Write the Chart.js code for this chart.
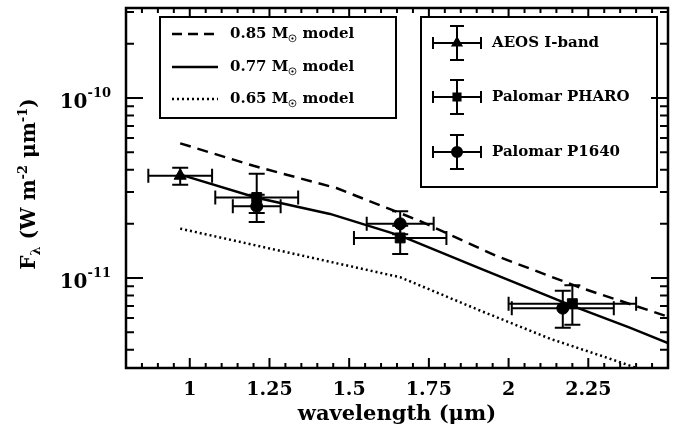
<!DOCTYPE html>
<html lang="en">
<head>
<meta charset="UTF-8">
<title>Companion SED with model curves</title>
<style>
  body { margin: 0; background: #fff; }
  #wrap { width: 676px; height: 436px; }
</style>
</head>
<body>
<div id="wrap"><canvas id="sed" width="676" height="436"></canvas></div>
<script src="https://cdn.jsdelivr.net/npm/chart.js"></script>
<script>
// model curves: wavelength (um) and flux (W m^-2 um^-1)
const wave085 = [0.97, 1.20, 1.46, 1.72, 1.96, 2.22, 2.50];
const flux085 = [5.6e-11, 4.2e-11, 3.16e-11, 2.08e-11, 1.33e-11, 8.9e-12, 6.1e-12];
const wave077 = [0.976, 1.21, 1.44, 1.66, 1.91, 2.20, 2.38, 2.50];
const flux077 = [3.73e-11, 2.79e-11, 2.27e-11, 1.72e-11, 1.13e-11, 7.0e-12, 5.3e-12, 4.35e-12];
const wave065 = [0.97, 1.25, 1.66, 1.91, 2.13, 2.31, 2.50];
const flux065 = [1.88e-11, 1.46e-11, 1.01e-11, 6.6e-12, 4.6e-12, 3.6e-12, 2.75e-12];

// photometry
const aeosWave = [0.97];
const aeosWaveErr = [0.10];
const aeosFlux = [3.7e-11];
const aeosFluxLo = [3.3e-11];
const aeosFluxHi = [4.1e-11];

const pharoWave = [1.21, 1.66, 2.20];
const pharoWaveErr = [0.13, 0.145, 0.20];
const pharoFlux = [2.8e-11, 1.67e-11, 7.2e-12];
const pharoFluxLo = [2.3e-11, 1.36e-11, 5.5e-12];
const pharoFluxHi = [3.8e-11, 1.95e-11, 9.1e-12];

const p1640Wave = [1.21, 1.66, 2.17];
const p1640WaveErr = [0.075, 0.105, 0.16];
const p1640Flux = [2.5e-11, 2.0e-11, 6.8e-12];
const p1640FluxLo = [2.05e-11, 1.75e-11, 5.3e-12];
const p1640FluxHi = [2.9e-11, 2.35e-11, 8.5e-12];

const xTicks = [1, 1.25, 1.5, 1.75, 2, 2.25];
const xTickLabels = ['1', '1.25', '1.5', '1.75', '2', '2.25'];
const yTicks = [1e-10, 1e-11];
const yTickExp = ['-10', '-11'];

const modelLabels = ['0.85', '0.77', '0.65'];
const obsLabels = ['AEOS I-band', 'Palomar PHARO', 'Palomar P1640'];

const FONT = '"DejaVu Serif", serif';

function pts(xs, ys) {
    return xs.map((x, i) => ({ x: x, y: ys[i] }));
}

function obsPts(w, we, f, lo, hi) {
    return w.map((x, i) => ({ x: x, y: f[i], xe: we[i], lo: lo[i], hi: hi[i] }));
}

function modelSet(xs, ys, dash) {
    return {
        data: pts(xs, ys),
        showLine: true,
        borderColor: '#000',
        borderWidth: 2.5,
        borderDash: dash,
        pointRadius: 0,
        fill: false
    };
}

function obsSet(data, style, r) {
    return {
        data: data,
        showLine: false,
        pointStyle: style,
        pointRadius: r,
        backgroundColor: '#000',
        borderColor: '#000',
        borderWidth: 1,
        errorBars: true
    };
}

// error bars, frame, ticks, labels and the two legend boxes
const decor = {
    id: 'decor',
    afterDatasetsDraw(chart) {
        const ctx = chart.ctx;
        const xs = chart.scales.x, ys = chart.scales.y;
        const a = chart.chartArea;
        ctx.save();
        ctx.strokeStyle = '#000';
        ctx.fillStyle = '#000';

        // error bars
        ctx.lineWidth = 2;
        chart.data.datasets.forEach(ds => {
            if (!ds.errorBars) return;
            ds.data.forEach(p => {
                const px = xs.getPixelForValue(p.x), py = ys.getPixelForValue(p.y);
                const x0 = xs.getPixelForValue(p.x - p.xe), x1 = xs.getPixelForValue(p.x + p.xe);
                const y0 = ys.getPixelForValue(p.hi), y1 = ys.getPixelForValue(p.lo);
                ctx.beginPath();
                ctx.moveTo(x0, py); ctx.lineTo(x1, py);
                ctx.moveTo(x0, py - 7); ctx.lineTo(x0, py + 7);
                ctx.moveTo(x1, py - 7); ctx.lineTo(x1, py + 7);
                ctx.moveTo(px, y0); ctx.lineTo(px, y1);
                ctx.moveTo(px - 8, y0); ctx.lineTo(px + 8, y0);
                ctx.moveTo(px - 8, y1); ctx.lineTo(px + 8, y1);
                ctx.stroke();
            });
        });

        // frame
        ctx.lineWidth = 2.5;
        ctx.strokeRect(a.left, a.top, a.right - a.left, a.bottom - a.top);

        // x ticks (inward, mirrored on top)
        ctx.lineWidth = 2;
        ctx.beginPath();
        for (let k = 16; k <= 50; k++) {
            const v = k * 0.05;
            const px = xs.getPixelForValue(v);
            const len = (k % 5 === 0) ? 10 : 5;
            ctx.moveTo(px, a.bottom); ctx.lineTo(px, a.bottom - len);
            ctx.moveTo(px, a.top); ctx.lineTo(px, a.top + len);
        }
        // y ticks
        for (let e = -12; e <= -10; e++) {
            for (let m = 1; m <= 9; m++) {
                const v = m * Math.pow(10, e);
                if (v < ys.min * 0.999 || v > ys.max * 1.001) continue;
                const py = ys.getPixelForValue(v);
                const len = (m === 1) ? 17 : 8;
                ctx.moveTo(a.left, py); ctx.lineTo(a.left + len, py);
                ctx.moveTo(a.right, py); ctx.lineTo(a.right - len, py);
            }
        }
        ctx.stroke();

        // x tick labels
        ctx.font = 'bold 19px ' + FONT;
        ctx.textAlign = 'center';
        ctx.textBaseline = 'middle';
        xTicks.forEach((v, i) => {
            ctx.fillText(xTickLabels[i], xs.getPixelForValue(v), 390);
        });

        // y tick labels 10^n
        yTicks.forEach((v, i) => {
            const py = ys.getPixelForValue(v);
            ctx.font = 'bold 13px ' + FONT;
            const wSup = ctx.measureText(yTickExp[i]).width;
            ctx.font = 'bold 20px ' + FONT;
            const wBase = ctx.measureText('10').width;
            const right = 111;
            ctx.textAlign = 'left';
            ctx.textBaseline = 'alphabetic';
            ctx.fillText('10', right - wSup - wBase, py + 10);
            ctx.font = 'bold 13px ' + FONT;
            ctx.fillText(yTickExp[i], right - wSup, py - 1);
        });

        // x title
        ctx.font = 'bold 21px ' + FONT;
        ctx.textAlign = 'center';
        ctx.textBaseline = 'middle';
        ctx.fillText('wavelength (\u03bcm)', (a.left + a.right) / 2, 415);

        // y title, rotated, with sub/superscripts
        const parts = [
            ['F', 20, 0], ['\u03bb', 13, 5], [' (W m', 20, 0], ['-2', 13, -8],
            [' \u03bcm', 20, 0], ['-1', 13, -8], [')', 20, 0]
        ];
        let total = 0;
        parts.forEach(p => { ctx.font = 'bold ' + p[1] + 'px ' + FONT; total += ctx.measureText(p[0]).width; });
        ctx.save();
        ctx.translate(35, 184);
        ctx.rotate(-Math.PI / 2);
        ctx.textAlign = 'left';
        ctx.textBaseline = 'alphabetic';
        let cx = -total / 2;
        parts.forEach(p => {
            ctx.font = 'bold ' + p[1] + 'px ' + FONT;
            ctx.fillText(p[0], cx, p[2]);
            cx += ctx.measureText(p[0]).width;
        });
        ctx.restore();

        // left legend box (models)
        ctx.lineWidth = 2;
        ctx.strokeRect(160, 17, 236, 101);
        const dashes = [[10, 6], [], [2, 3]];
        const rowsL = [34, 67, 99];
        modelLabels.forEach((lab, i) => {
            ctx.setLineDash(dashes[i]);
            ctx.lineWidth = 2.5;
            ctx.beginPath();
            ctx.moveTo(172, rowsL[i]); ctx.lineTo(218, rowsL[i]);
            ctx.stroke();
            ctx.setLineDash([]);
            ctx.textAlign = 'left';
            ctx.textBaseline = 'middle';
            ctx.font = 'bold 15px ' + FONT;
            let tx = 230;
            ctx.fillText(lab + ' M', tx, rowsL[i]);
            tx += ctx.measureText(lab + ' M').width;
            ctx.font = 'bold 10px ' + FONT;
            ctx.fillText('\u2609', tx, rowsL[i] + 5);
            tx += ctx.measureText('\u2609').width;
            ctx.font = 'bold 15px ' + FONT;
            ctx.fillText(' model', tx, rowsL[i]);
        });

        // right legend box (data)
        ctx.lineWidth = 2;
        ctx.strokeRect(421, 17, 236, 170);
        const rowsR = [43, 97, 152];
        const styles = ['triangle', 'rect', 'circle'];
        obsLabels.forEach((lab, i) => {
            const cx0 = 457, cy = rowsR[i];
            ctx.lineWidth = 2;
            ctx.beginPath();
            ctx.moveTo(cx0 - 24, cy); ctx.lineTo(cx0 + 24, cy);
            ctx.moveTo(cx0 - 24, cy - 6); ctx.lineTo(cx0 - 24, cy + 6);
            ctx.moveTo(cx0 + 24, cy - 6); ctx.lineTo(cx0 + 24, cy + 6);
            ctx.moveTo(cx0, cy - 17); ctx.lineTo(cx0, cy + 17);
            ctx.moveTo(cx0 - 7, cy - 17); ctx.lineTo(cx0 + 7, cy - 17);
            ctx.moveTo(cx0 - 7, cy + 17); ctx.lineTo(cx0 + 7, cy + 17);
            ctx.stroke();
            Chart.helpers.drawPoint(ctx, { pointStyle: styles[i], radius: 5, borderWidth: 1 }, cx0, cy);
            ctx.fill();
            ctx.font = 'bold 15px ' + FONT;
            ctx.textAlign = 'left';
            ctx.textBaseline = 'middle';
            ctx.fillText(lab, 492, cy);
        });

        ctx.restore();
    }
};

new Chart(document.getElementById('sed'), {
    type: 'scatter',
    data: {
        datasets: [
            modelSet(wave085, flux085, [11, 7]),
            modelSet(wave077, flux077, []),
            modelSet(wave065, flux065, [2, 3]),
            obsSet(obsPts(aeosWave, aeosWaveErr, aeosFlux, aeosFluxLo, aeosFluxHi), 'triangle', 7),
            obsSet(obsPts(pharoWave, pharoWaveErr, pharoFlux, pharoFluxLo, pharoFluxHi), 'rect', 7),
            obsSet(obsPts(p1640Wave, p1640WaveErr, p1640Flux, p1640FluxLo, p1640FluxHi), 'circle', 6)
        ]
    },
    options: {
        responsive: false,
        animation: false,
        devicePixelRatio: 1,
        layout: { padding: { left: 126, right: 8, top: 6, bottom: 68 } },
        scales: {
            x: { type: 'linear', min: 0.8, max: 2.5, display: false },
            y: { type: 'logarithmic', min: Math.pow(10, -11.5), max: Math.pow(10, -9.5), display: false }
        },
        plugins: { legend: { display: false }, tooltip: { enabled: false } }
    },
    plugins: [decor]
});
</script>
</body>
</html>
